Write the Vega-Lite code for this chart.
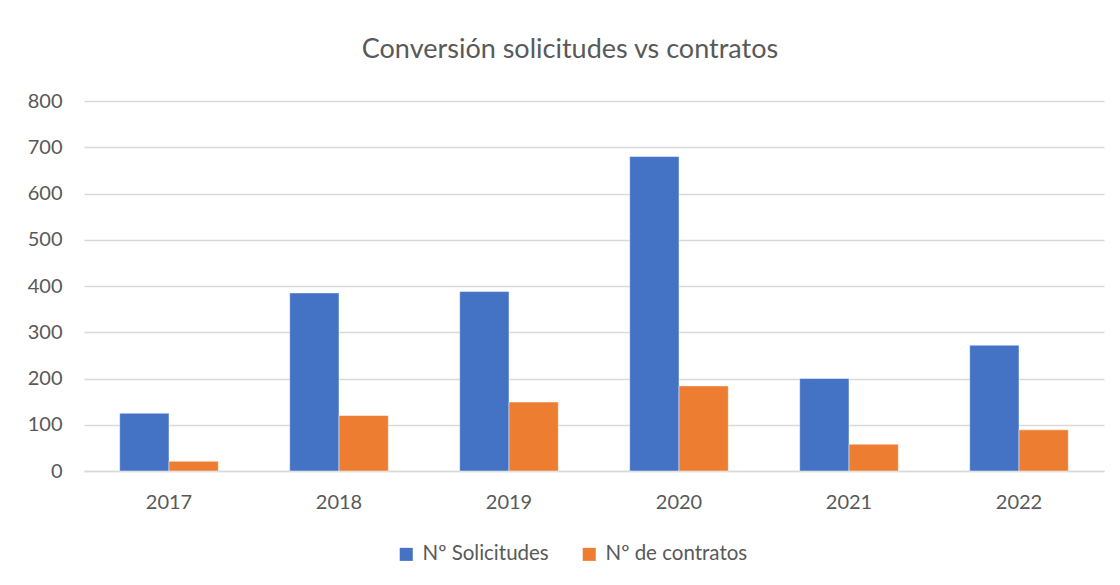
{
  "$schema": "https://vega.github.io/schema/vega-lite/v6.json",
  "width": 1020,
  "height": 370,
  "autosize": {"type": "none"},
  "padding": {"left": 84, "top": 101, "right": 16, "bottom": 114},
  "background": "white",
  "title": {
    "text": "Conversión solicitudes vs contratos",
    "font": "Lato",
    "fontSize": 27,
    "fontWeight": "normal",
    "color": "#595959",
    "anchor": "middle",
    "dx": -24,
    "offset": 27
  },
  "data": {
    "values": [
      {"year": "2017", "serie": "Nº Solicitudes", "value": 125},
      {"year": "2017", "serie": "Nº de contratos", "value": 21},
      {"year": "2018", "serie": "Nº Solicitudes", "value": 385},
      {"year": "2018", "serie": "Nº de contratos", "value": 120},
      {"year": "2019", "serie": "Nº Solicitudes", "value": 388},
      {"year": "2019", "serie": "Nº de contratos", "value": 149},
      {"year": "2020", "serie": "Nº Solicitudes", "value": 680},
      {"year": "2020", "serie": "Nº de contratos", "value": 184},
      {"year": "2021", "serie": "Nº Solicitudes", "value": 200},
      {"year": "2021", "serie": "Nº de contratos", "value": 58},
      {"year": "2022", "serie": "Nº Solicitudes", "value": 272},
      {"year": "2022", "serie": "Nº de contratos", "value": 89}
    ]
  },
  "mark": {"type": "bar", "stroke": "white", "strokeWidth": 0.8, "strokeOpacity": 0.6},
  "encoding": {
    "x": {
      "field": "year",
      "type": "nominal",
      "scale": {"paddingInner": 0.42, "paddingOuter": 0.21},
      "axis": {
        "title": null,
        "labelAngle": 0,
        "labelFont": "Lato",
        "labelFontSize": 20,
        "labelColor": "#595959",
        "labelPadding": 21,
        "ticks": false,
        "domainColor": "#d9d9d9",
        "domainWidth": 1.5
      }
    },
    "xOffset": {"field": "serie", "type": "nominal", "sort": ["Nº Solicitudes", "Nº de contratos"]},
    "y": {
      "field": "value",
      "type": "quantitative",
      "scale": {"domain": [0, 800], "nice": false},
      "axis": {
        "title": null,
        "values": [0, 100, 200, 300, 400, 500, 600, 700, 800],
        "labelFont": "Lato",
        "labelFontSize": 20,
        "labelColor": "#595959",
        "labelPadding": 22,
        "ticks": false,
        "domain": false,
        "gridColor": "#d9d9d9",
        "gridWidth": 1.5
      }
    },
    "color": {
      "field": "serie",
      "type": "nominal",
      "sort": ["Nº Solicitudes", "Nº de contratos"],
      "scale": {"domain": ["Nº Solicitudes", "Nº de contratos"], "range": ["#4472c4", "#ed7d31"]},
      "legend": {
        "title": null,
        "orient": "none",
        "direction": "horizontal",
        "legendX": 312,
        "legendY": 443,
        "symbolType": "square",
        "symbolSize": 170,
        "symbolStrokeWidth": 0,
        "labelFont": "Lato",
        "labelFontSize": 20.5,
        "labelColor": "#595959",
        "labelOffset": 6,
        "columnPadding": 30
      }
    }
  },
  "config": {
    "view": {"stroke": null}
  }
}
